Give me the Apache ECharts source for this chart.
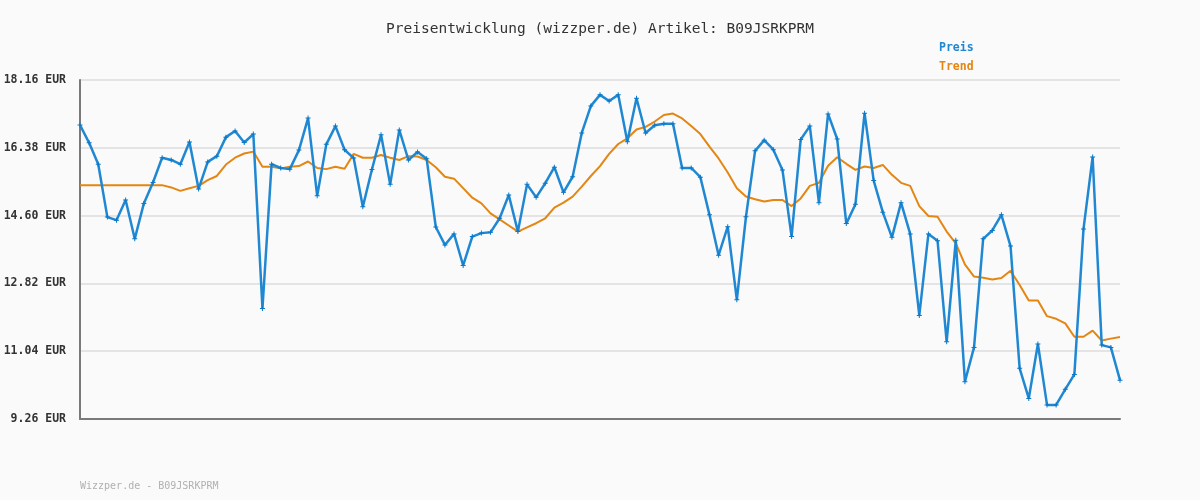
<!DOCTYPE html>
<html>
<head>
<meta charset="utf-8">
<script src="https://cdn.jsdelivr.net/npm/echarts@6/dist/echarts.min.js"></script>
<style>
html,body{margin:0;padding:0;background:#fafafa;}
#chart{width:1200px;height:500px;}
</style>
</head>
<body>
<div id="chart"></div>
<script>
const titleText = 'Preisentwicklung (wizzper.de) Artikel: B09JSRKPRM';
const footerText = 'Wizzper.de - B09JSRKPRM';
const seriesNames = ['Preis', 'Trend'];

const preis = [
  16.98, 16.51, 15.95, 14.56, 14.48, 15.01, 13.99, 14.92, 15.47, 16.12,
  16.06, 15.95, 16.53, 15.30, 16.01, 16.16, 16.66, 16.82, 16.52, 16.74,
  12.16, 15.95, 15.85, 15.82, 16.32, 17.16, 15.12, 16.47, 16.95, 16.33,
  16.11, 14.83, 15.81, 16.72, 15.42, 16.85, 16.06, 16.27, 16.09, 14.30,
  13.83, 14.12, 13.29, 14.05, 14.14, 14.16, 14.53, 15.14, 14.18, 15.42,
  15.08, 15.45, 15.87, 15.21, 15.62, 16.77, 17.48, 17.77, 17.61, 17.77,
  16.54, 17.68, 16.77, 16.97, 17.01, 17.01, 15.85, 15.85, 15.61, 14.62,
  13.56, 14.31, 12.39, 14.57, 16.30, 16.58, 16.33, 15.80, 14.05, 16.60,
  16.95, 14.94, 17.27, 16.61, 14.39, 14.90, 17.29, 15.52, 14.69, 14.03,
  14.94, 14.12, 11.98, 14.12, 13.94, 11.29, 13.95, 10.24, 11.14, 13.99,
  14.21, 14.62, 13.80, 10.59, 9.80, 11.23, 9.63, 9.63, 10.04, 10.43,
  14.25, 16.14, 11.20, 11.14, 10.28
];

const trend = [
  15.40, 15.40, 15.40, 15.40, 15.40, 15.40, 15.40, 15.40, 15.40, 15.40,
  15.34, 15.25, 15.32, 15.38, 15.53, 15.64, 15.94, 16.12, 16.23, 16.28,
  15.88, 15.88, 15.84, 15.88, 15.90, 16.02, 15.85, 15.82, 15.88, 15.83,
  16.22, 16.12, 16.12, 16.19, 16.12, 16.06, 16.16, 16.15, 16.06, 15.87,
  15.62, 15.57, 15.32, 15.07, 14.92, 14.66, 14.50, 14.34, 14.18, 14.29,
  14.40, 14.53, 14.81, 14.94, 15.10, 15.36, 15.64, 15.90, 16.22, 16.48,
  16.63, 16.86, 16.93, 17.07, 17.24, 17.28, 17.15, 16.95, 16.74, 16.41,
  16.10, 15.73, 15.32, 15.10, 15.03, 14.97, 15.01, 15.01, 14.85, 15.05,
  15.38, 15.46, 15.91, 16.13, 15.96, 15.80, 15.89, 15.85, 15.93, 15.67,
  15.46, 15.38, 14.85, 14.59, 14.57, 14.18, 13.87, 13.32, 13.00, 12.97,
  12.92, 12.96, 13.15, 12.78, 12.37, 12.37, 11.96, 11.89, 11.77, 11.42,
  11.42, 11.58, 11.32, 11.37, 11.41
];

const categories = preis.map((_, i) => String(i + 1));

const yMin = 9.26, yMax = 18.16, yStep = 1.78;

const mono = '"DejaVu Sans Mono", "Liberation Mono", monospace';
const blue = '#2088d2';
const orange = '#e38612';

const chart = echarts.init(document.getElementById('chart'), null, {renderer: 'canvas'});
chart.setOption({
  backgroundColor: '#fafafa',
  animation: false,
  title: {
    text: titleText,
    left: 'center',
    top: 17,
    textStyle: {fontFamily: mono, fontSize: 14.5, fontWeight: 'normal', color: '#333'}
  },
  legend: {
    orient: 'vertical',
    left: 929,
    top: 36,
    icon: 'none',
    itemWidth: 0,
    itemHeight: 14,
    itemGap: 6,
    selectedMode: false,
    data: [
      {name: seriesNames[0], textStyle: {color: blue}},
      {name: seriesNames[1], textStyle: {color: orange}}
    ],
    textStyle: {fontFamily: mono, fontSize: 11.5, fontWeight: 'bold'}
  },
  graphic: [{
    type: 'text',
    left: 80,
    top: 481,
    style: {text: footerText, fill: '#b0b0b0', font: '10px ' + mono}
  }],
  grid: {left: 80, right: 80, top: 80, bottom: 81, containLabel: false},
  xAxis: {
    type: 'category',
    data: categories,
    boundaryGap: false,
    axisLine: {show: true, lineStyle: {color: '#7a7a7a', width: 2}},
    axisTick: {show: false},
    axisLabel: {show: false},
    splitLine: {show: false}
  },
  yAxis: {
    type: 'value',
    min: yMin,
    max: yMax,
    interval: yStep,
    axisLine: {show: true, lineStyle: {color: '#7a7a7a', width: 2}},
    axisTick: {show: false},
    axisLabel: {
      margin: 14,
      fontFamily: mono,
      fontSize: 11.5,
      fontWeight: 'bold',
      color: '#333',
      formatter: v => v.toFixed(2) + ' EUR'
    },
    splitLine: {show: true, lineStyle: {color: '#e4e4e4', width: 2}}
  },
  series: [
    {
      name: seriesNames[0],
      type: 'line',
      data: preis,
      symbol: 'path://M2,0H3V2H5V3H3V5H2V3H0V2H2Z',
      symbolSize: 5,
      showAllSymbol: true,
      itemStyle: {color: '#0a78c8'},
      lineStyle: {color: blue, width: 2.5},
      z: 3
    },
    {
      name: seriesNames[1],
      type: 'line',
      data: trend,
      symbol: 'none',
      itemStyle: {color: orange},
      lineStyle: {color: orange, width: 2},
      z: 2
    }
  ]
});
</script>
</body>
</html>
